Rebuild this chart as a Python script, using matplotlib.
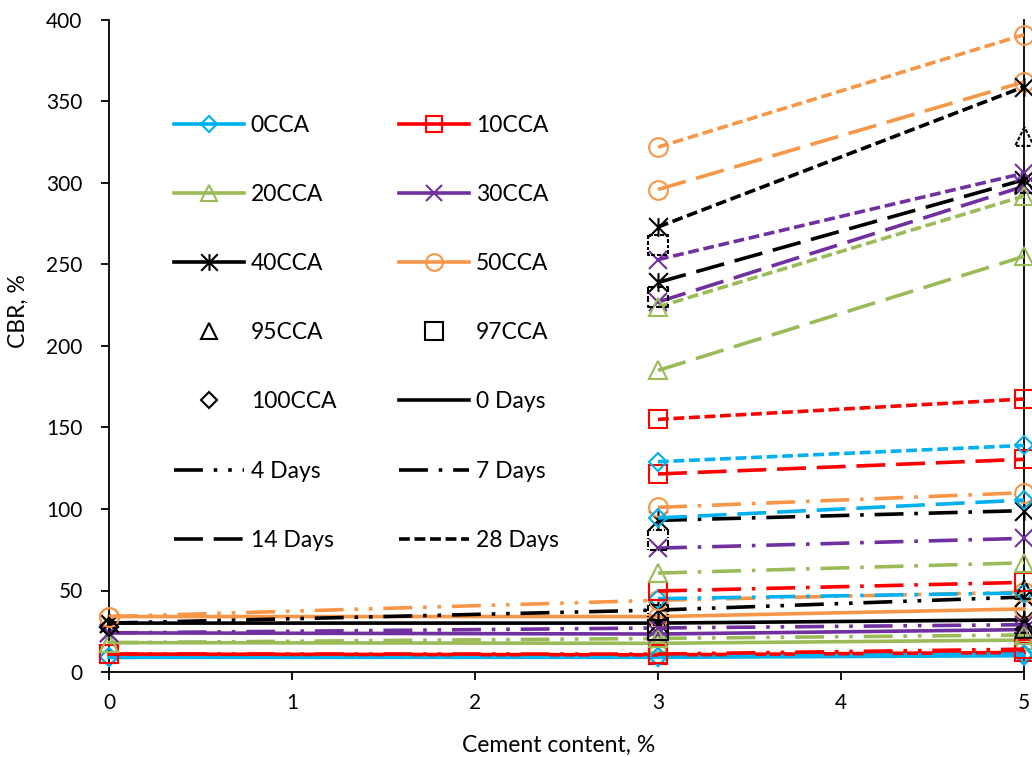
import numpy as np
import matplotlib
matplotlib.use("Agg")
import matplotlib.pyplot as plt
from matplotlib.path import Path
from matplotlib.lines import Line2D

plt.rcParams['font.family'] = ['Lato', 'DejaVu Sans']

# cement content on the x axis
cement = [0, 3, 5]
days = [0, 4, 7, 14, 28]
day_labels = ['0 Days', '4 Days', '7 Days', '14 Days', '28 Days']
nan = np.nan

# CBR (%) per CCA mix, one row per curing period, columns = cement 0, 3, 5 %
cca_labels = ['0CCA', '10CCA', '20CCA', '30CCA', '40CCA', '50CCA']
cbr_0cca = [[9, 9, 10], [9, 9.5, 11], [nan, 45, 48.5], [nan, 94.5, 105.5], [nan, 129, 139]]
cbr_10cca = [[11, 10.5, 12], [11, 11, 14], [nan, 49.7, 55], [nan, 121.5, 130.5], [nan, 155, 167.5]]
cbr_20cca = [[18, 17.6, 19.6], [18, 20.6, 22.7], [nan, 60.7, 67], [nan, 185, 255], [nan, 224, 292]]
cbr_30cca = [[24, 23.3, 26], [24, 27, 29], [nan, 76, 82], [nan, 227, 298], [nan, 253, 306]]
cbr_40cca = [[30, 30, 32], [30, 38, 46], [nan, 93, 99], [nan, 239, 302], [nan, 273, 359]]
cbr_50cca = [[34, 34, 38.7], [34, 44, 49], [nan, 101, 110], [nan, 296, 362], [nan, 322, 391]]

# pure CCA + cement reference mixes (one cement content each)
cbr_95cca = [27, 30, 51, 300, 329]   # at 5 % cement
cbr_97cca = [26, 35, 81, 230, 262]   # at 3 % cement
cbr_100cca = [27.6, 27.6]            # at 0 % cement (0 and 4 days)

colors = ['#00b0f0', '#ff0000', '#9bbb59', '#7030a0', '#000000', '#f79646']

# asterisk marker like Excel's star: an x plus a vertical bar
star = Path([(-0.5, -0.5), (0.5, 0.5), (-0.5, 0.5), (0.5, -0.5), (0, -0.5), (0, 0.5)],
            [Path.MOVETO, Path.LINETO, Path.MOVETO, Path.LINETO, Path.MOVETO, Path.LINETO])
markers = ['D', 's', '^', 'x', star, 'o']
msizes = [9.5, 13, 13.5, 13.5, 13.5, 13.5]

styles = ['-', (0, (8, 3, 1, 3, 1, 3)), (0, (8, 3, 1, 3)), (0, (8, 3)), (0, (3, 1.3))]
# same dash types, for marker outlines (in marker-size units)
marker_dash = [None, [0.3, 0.1, 0.05, 0.1, 0.05, 0.1], [0.3, 0.1, 0.05, 0.1],
               [0.32, 0.14], [0.2, 0.09]]


def dashed_outline(verts, pattern):
    pts = np.array(list(verts) + [verts[0]], dtype=float)
    if pattern is None:
        return Path(pts, closed=True)
    seg = np.hypot(*np.diff(pts, axis=0).T)
    cum = np.concatenate([[0], np.cumsum(seg)])
    total = cum[-1]

    def at(t):
        i = min(np.searchsorted(cum, t, side='right') - 1, len(seg) - 1)
        f = (t - cum[i]) / seg[i]
        return pts[i] + f * (pts[i + 1] - pts[i])

    out, codes = [], []
    t, i = 0.0, 0
    while t < total - 1e-9:
        t1 = min(t + pattern[i % len(pattern)], total)
        if i % 2 == 0:
            out.append(at(t))
            codes.append(Path.MOVETO)
            for c in cum[1:-1]:
                if t < c < t1:
                    out.append(pts[np.searchsorted(cum, c)])
                    codes.append(Path.LINETO)
            out.append(at(t1))
            codes.append(Path.LINETO)
        t, i = t1, i + 1
    return Path(np.array(out), codes)


tri = [(0, 0.5), (-0.5, -0.5), (0.5, -0.5)]
sq = [(-0.5, 0.5), (-0.5, -0.5), (0.5, -0.5), (0.5, 0.5)]

lw = 2.6
fig = plt.figure(figsize=(10.32, 7.57), dpi=100)
ax = fig.add_axes([109 / 1032, 1 - 672 / 757, (1024 - 109) / 1032, (672 - 20) / 757])

series = [cbr_0cca, cbr_10cca, cbr_20cca, cbr_30cca, cbr_40cca, cbr_50cca]
for k in range(len(days)):
    for s, rows in enumerate(series):
        y = np.array(rows[k], dtype=float)
        ax.plot(cement, y, color=colors[s], lw=lw, ls=styles[k], marker=markers[s],
                ms=msizes[s], mfc='none', mec=colors[s], mew=1.5, clip_on=False, zorder=3)

for k in range(len(days)):
    ax.plot([5], [cbr_95cca[k]], ls='none', marker=dashed_outline(tri, marker_dash[k]),
            ms=13.5, mfc='none', mec='k', mew=1.5, clip_on=False, zorder=4)
    ax.plot([3], [cbr_97cca[k]], ls='none', marker=dashed_outline(sq, marker_dash[k]),
            ms=14, mfc='none', mec='k', mew=1.5, clip_on=False, zorder=4)
for v in cbr_100cca:
    ax.plot([0], [v], ls='none', marker='D', ms=9.5, mfc='none', mec='k', mew=1.5,
            clip_on=False, zorder=4)

ax.set_xlim(0, 5)
ax.set_ylim(0, 400)
ax.set_xticks(range(6))
ax.set_yticks(range(0, 401, 50))
ax.spines['top'].set_visible(False)
for sp in ['left', 'bottom', 'right']:
    ax.spines[sp].set_linewidth(1.3)
ax.tick_params(axis='y', length=6, width=1.3, pad=13, labelsize=15)
ax.tick_params(axis='x', length=6, width=1.3, pad=9, labelsize=15)
fig.text(559 / 1032, 1 - 745 / 757, 'Cement content, %', fontsize=16.5, ha='center', va='center')
fig.text(18 / 1032, 1 - 311 / 757, 'CBR, %', fontsize=16.5, ha='center', va='center',
         rotation=90)

# legend, laid out row by row in two columns
lms = [8.5, 12, 12, 12, 12, 12]
handles = []
for s in range(6):
    handles.append(Line2D([], [], color=colors[s], lw=lw, marker=markers[s], ms=lms[s],
                          mfc='none', mec=colors[s], mew=1.5))
handles.append(Line2D([], [], ls='none', marker='^', ms=12, mfc='none', mec='k', mew=1.5))
handles.append(Line2D([], [], ls='none', marker='s', ms=12.5, mfc='none', mec='k', mew=1.5))
handles.append(Line2D([], [], ls='none', marker='D', ms=8.5, mfc='none', mec='k', mew=1.5))
for k in range(5):
    handles.append(Line2D([], [], color='k', lw=lw, ls=styles[k]))
labels = cca_labels + ['95CCA', '97CCA', '100CCA'] + day_labels

kw = dict(loc='upper left', bbox_transform=fig.transFigure, frameon=False, borderpad=0,
          borderaxespad=0, handlelength=3.05, handletextpad=0.3, labelspacing=2.1,
          fontsize=16.5, numpoints=1)
leg1 = ax.legend(handles[0::2], labels[0::2], bbox_to_anchor=(174 / 1032, 1 - 115 / 757), **kw)
ax.add_artist(leg1)
ax.legend(handles[1::2], labels[1::2], bbox_to_anchor=(399 / 1032, 1 - 115 / 757), **kw)

fig.savefig('out.png', dpi=100)
